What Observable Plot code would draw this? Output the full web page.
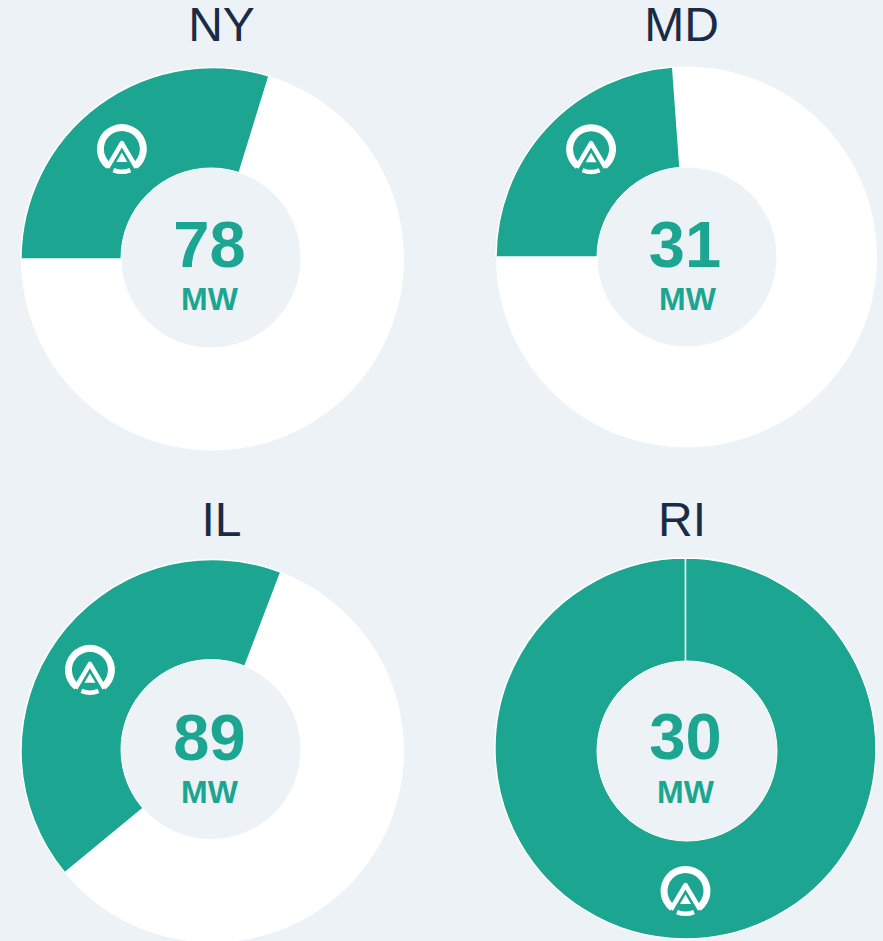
<!DOCTYPE html>
<html>
<head>
<meta charset="utf-8">
<script src="https://cdn.jsdelivr.net/npm/d3@7"></script>
<script src="https://cdn.jsdelivr.net/npm/@observablehq/plot@0.6"></script>
<style>
html,body{margin:0;padding:0;background:#edf2f7;overflow:hidden}
svg{display:block}
</style>
</head>
<body>
<div id="chart"></div>
<script>
// Data
const states = ["NY", "MD", "IL", "RI"];
const megawatts = [78, 31, 89, 30];
const stateTotals = [262, 130, 213, 30];
const unit = "MW";

// Layout (px)
const centerX = [212.5, 686.5, 212.5, 685.5];
const centerY = [259, 257, 751, 748.5];
const holeX = [211, 687, 211, 687];
const holeY = [258, 257, 749.5, 751];
const outerR = [191.5, 190.5, 191.5, 190.5];
const startDeg = [-90, -90, -129.5, 0];
const iconDeg = [-39.5, -41.5, -56.5, 180];
const iconR = [142.5, 144, 147, 142.5];
const titleX = [221, 681, 221, 681.5];
const titleY = [42, 42, 537, 537];
const numX = [209, 684.5, 209, 685];
const numY = [270, 270, 763, 762];
const unitX = [209, 687, 209, 685];
const unitY = [311, 311, 804, 804];

const TEAL = "#1ca590", INK = "#1a2b45", BG = "#edf2f7", INNER = 90;
const rows = states.map((state, i) => ({state, mw: megawatts[i], total: stateTotals[i], i}));
const rad = d => d * Math.PI / 180;

function donuts(index, {x, y}) {
  const g = d3.create("svg:g");
  const arc = d3.arc();
  for (const k of index) {
    const d = rows[k], i = d.i;
    const cx = x(centerX[i]), cy = y(centerY[i]);
    const c = g.append("g").attr("transform", `translate(${cx},${cy})`);
    const sweep = d3.scaleLinear().domain([0, d.total]).range([0, 2 * Math.PI - 0.0005]);
    c.append("circle").attr("r", outerR[i]).attr("fill", "white");
    c.append("path")
      .attr("d", arc({innerRadius: INNER - 12, outerRadius: outerR[i],
        startAngle: rad(startDeg[i]), endAngle: rad(startDeg[i]) + sweep(d.mw)}))
      .attr("fill", TEAL).attr("stroke", "white").attr("stroke-width", 1.5);
    g.append("circle").attr("cx", x(holeX[i])).attr("cy", y(holeY[i])).attr("r", INNER)
      .attr("fill", BG).attr("stroke", "white").attr("stroke-width", 1);
    // Logo
    const ia = rad(iconDeg[i]);
    const lg = c.append("g")
      .attr("transform", `translate(${iconR[i] * Math.sin(ia)},${-iconR[i] * Math.cos(ia)})`);
    lg.append("path")
      .attr("d", arc({innerRadius: 18, outerRadius: 25, startAngle: rad(-142), endAngle: rad(142)}))
      .attr("fill", "white");
    lg.append("path")
      .attr("d", arc({innerRadius: 20.5, outerRadius: 25, startAngle: rad(158), endAngle: rad(202)}))
      .attr("fill", "white");
    lg.append("path")
      .attr("d", "M-14.5,18.5L0,-6L14.5,18.5")
      .attr("stroke", "white").attr("stroke-width", 4.5).attr("fill", "none").attr("stroke-linejoin", "round");
    lg.append("path").attr("d", "M0,3.5L5.5,13L-5.5,13Z").attr("fill", "white");
  }
  return g.node();
}

const font = "'Liberation Sans', Arial, sans-serif";
const plot = Plot.plot({
  width: 883, height: 941,
  margin: 0,
  style: {background: BG, fontFamily: font},
  x: {type: "identity", axis: null},
  y: {type: "identity", axis: null},
  marks: [
    Plot.dot(rows, {x: (d) => centerX[d.i], y: (d) => centerY[d.i], r: 0, render: (i, s) => donuts(i, s)}),
    Plot.text(rows, {x: d => titleX[d.i], y: d => titleY[d.i], text: "state", fontSize: 48,
      fill: INK, textAnchor: "middle", lineAnchor: "bottom", dy: -2, fontFamily: font}),
    Plot.text(rows, {x: d => numX[d.i], y: d => numY[d.i], text: d => String(d.mw), fontSize: 65,
      fontWeight: 700, fill: TEAL, textAnchor: "middle", lineAnchor: "bottom", dy: -4, fontFamily: font}),
    Plot.text(rows, {x: d => unitX[d.i], y: d => unitY[d.i], text: () => unit, fontSize: 32,
      fontWeight: 700, fill: TEAL, textAnchor: "middle", lineAnchor: "bottom", dy: -2, fontFamily: font})
  ]
});
document.getElementById("chart").append(plot);
</script>
</body>
</html>
